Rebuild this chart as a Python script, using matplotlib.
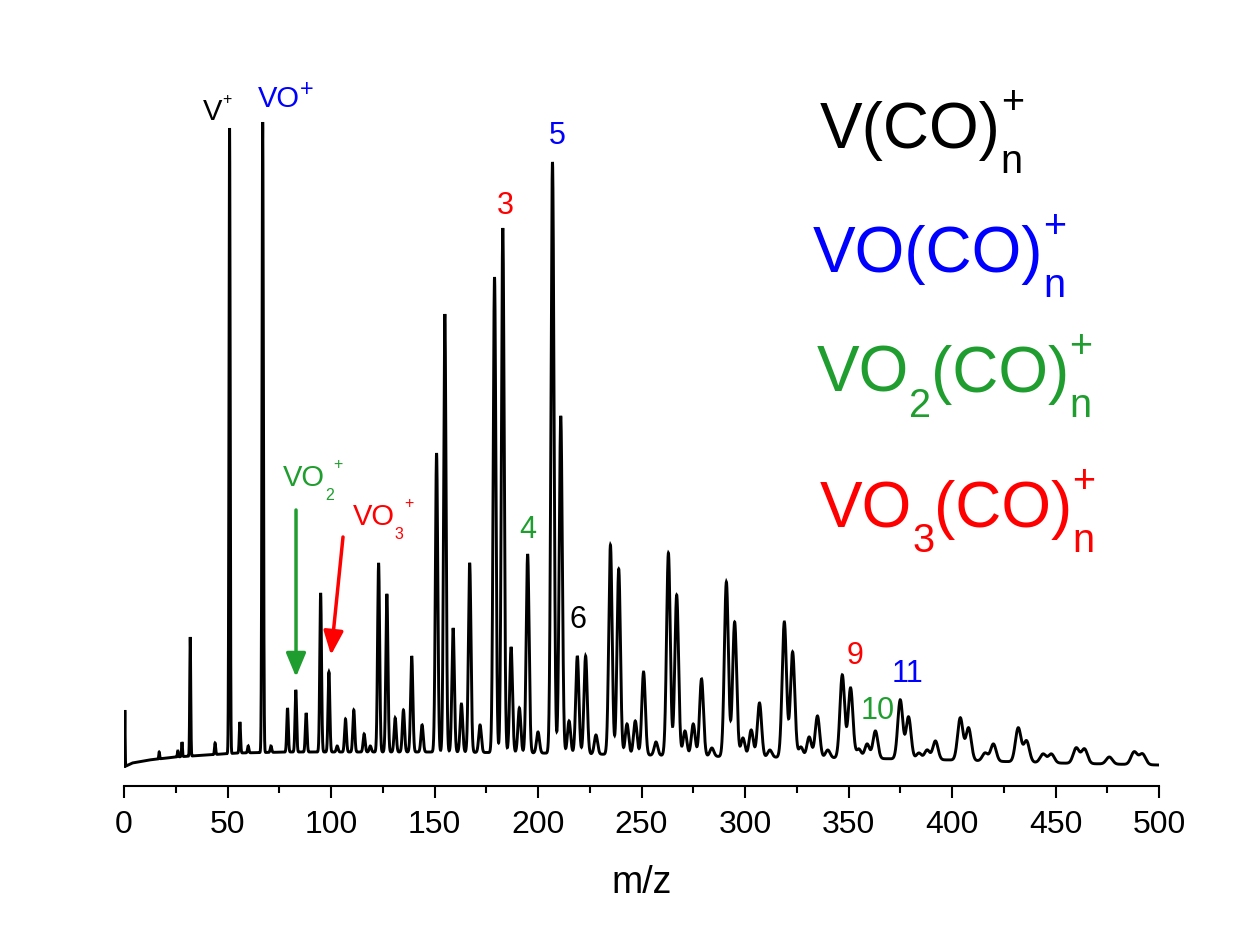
import numpy as np
import matplotlib
matplotlib.use("Agg")
import matplotlib.pyplot as plt
from matplotlib.ticker import MultipleLocator
from matplotlib.transforms import offset_copy

plt.rcParams["font.family"] = ["Liberation Sans", "DejaVu Sans"]

GREEN = "#1f9e2f"
RED = "#ff0000"
BLUE = "#0000ff"

# ─── DATA ──────────────────────────────────────────────────────────────────────
# baseline of the spectrum (arb. units)
base_mz = [0, 1, 4, 12, 25, 40, 55, 80, 150, 200, 250, 300, 350, 400, 450, 500]
base_int = [18, 20, 23, 26, 29, 31, 33, 34, 34, 33, 31, 29, 28, 26, 23, 21]

# peak positions (m/z) and apex intensities (arb. units)
peak_mz = [0.4, 17, 26, 28, 32, 44, 51, 56, 60, 67, 71, 79, 83, 88, 95, 99,
           103, 107, 111, 116, 119, 123, 127, 131, 135, 139, 144, 151, 155,
           159, 163, 167, 172, 179, 183, 187, 191, 195, 200, 207, 211, 215,
           219, 223, 228, 235, 239, 243, 247, 251, 257, 263, 267, 271, 275,
           279, 284, 291, 295, 299, 303, 307, 312, 319, 323, 327, 331, 335,
           340, 347, 351, 355, 359, 363, 375, 379, 384, 388, 392, 404, 408,
           416, 420, 432, 436, 444, 448, 460, 464, 476, 488, 492]
peak_int = [76, 34, 35, 44, 149, 43, 658, 64, 40, 664, 40, 78, 96, 73, 193,
            114, 40, 67, 76, 52, 40, 223, 192, 68, 76, 130, 61, 333, 472,
            158, 82, 223, 61, 509, 558, 139, 78, 232, 54, 624, 370, 65,
            130, 130, 51, 241, 217, 62, 65, 114, 44, 233, 191, 55, 62,
            107, 38, 204, 164, 48, 56, 83, 36, 164, 134, 39, 49, 70,
            36, 111, 98, 37, 42, 55, 86, 69, 33, 36, 45, 68, 58,
            33, 42, 58, 45, 32, 32, 38, 37, 29, 34, 32]

# cluster-size labels: text, m/z, intensity, colour
n_text = ["3", "5", "4", "6", "9", "10", "11"]
n_mz = [184.1, 209.2, 195.2, 219.3, 353.1, 364.3, 378.7]
n_int = [572, 642, 248, 158, 122, 67, 104]
n_color = [RED, BLUE, GREEN, "black", RED, GREEN, BLUE]
# ───────────────────────────────────────────────────────────────────────────────

mz = np.linspace(0, 500, 20001)
signal = np.interp(mz, base_mz, base_int)
for m, top in zip(peak_mz, peak_int):
    amp = top - np.interp(m, base_mz, base_int)
    sigma = 0.15 + 0.0028 * m
    signal += amp * np.exp(-0.5 * ((mz - m) / sigma) ** 2)

fig = plt.figure(figsize=(12.43, 9.34), dpi=100)
ax = fig.add_axes([124 / 1243, 148 / 934, 1035 / 1243, 726 / 934])
ax.plot(mz, signal, color="black", lw=2.1, solid_joinstyle="miter")

ax.set_xlim(0, 500)
ax.set_ylim(0, 726)
for side in ("left", "top", "right"):
    ax.spines[side].set_visible(False)
ax.spines["bottom"].set_linewidth(1.5)
ax.set_yticks([])
ax.xaxis.set_major_locator(MultipleLocator(50))
ax.xaxis.set_minor_locator(MultipleLocator(25))
ax.tick_params(axis="x", which="major", direction="out", length=8.6, width=1.5,
               labelsize=23, pad=9)
ax.tick_params(axis="x", which="minor", direction="out", length=5, width=1.5)
ax.set_xlabel("m/z", fontsize=27, labelpad=18)

renderer = fig.canvas.get_renderer()


def formula(x, y, pieces, size, color, scale=0.6, drop=0.0, rise=0.0,
            stacked=True):
    """Write a chemical formula piece by piece; offsets are in pixels.

    pieces: list of (text, subscript, superscript)."""
    dx = 0.0
    small = size * scale
    for text, sub, sup in pieces:
        tr = offset_copy(ax.transData, fig=fig, x=dx, y=0, units="dots")
        t = ax.text(x, y, text, fontsize=size, color=color, va="baseline",
                    transform=tr)
        dx += t.get_window_extent(renderer).width
        w_sub = 0.0
        if sub:
            tr = offset_copy(ax.transData, fig=fig, x=dx, y=-drop, units="dots")
            s = ax.text(x, y, sub, fontsize=small, color=color,
                        va="baseline", transform=tr)
            w_sub = s.get_window_extent(renderer).width
        if sup:
            sx = dx if stacked else dx + w_sub
            tr = offset_copy(ax.transData, fig=fig, x=sx, y=rise, units="dots")
            p = ax.text(x, y, sup, fontsize=small, color=color,
                        va="baseline", transform=tr)
            w_sup = p.get_window_extent(renderer).width
            dx = max(dx + w_sub, sx + w_sup)
        else:
            dx += w_sub


# ion labels
formula(38.2, 666, [("V", "", "+")], 21, "black", scale=0.55, rise=16)
formula(64.7, 679, [("VO", "", "+")], 21, BLUE, scale=0.8, rise=11)
formula(76.8, 300, [("VO", "2", "+")], 21, GREEN, scale=0.55, drop=14,
        rise=17, stacked=False)
formula(110.6, 261, [("VO", "3", "+")], 21, RED, scale=0.55, drop=14,
        rise=17, stacked=False)

for t, m, y, c in zip(n_text, n_mz, n_int, n_color):
    ax.text(m, y, t, fontsize=22, color=c, ha="center", va="baseline")

# arrows pointing to VO2+ and VO3+
arrow = "-|>,head_length=0.72,head_width=0.3"
ax.annotate("", xy=(83.1, 109), xytext=(83.1, 276),
            arrowprops=dict(arrowstyle=arrow, color=GREEN, lw=2.5,
                            mutation_scale=20, shrinkA=0, shrinkB=0))
ax.annotate("", xy=(100.0, 131), xytext=(105.8, 249),
            arrowprops=dict(arrowstyle=arrow, color=RED, lw=2.5,
                            mutation_scale=20, shrinkA=0, shrinkB=0))

# series legend
big = dict(size=46, scale=0.62, drop=25, rise=34)
formula(336.2, 638, [("V(CO)", "n", "+")], color="black", **big)
formula(332.9, 514, [("VO(CO)", "n", "+")], color=BLUE, **big)
formula(334.8, 394, [("VO", "2", ""), ("(CO)", "n", "+")], color=GREEN, **big)
formula(336.2, 259, [("VO", "3", ""), ("(CO)", "n", "+")], color=RED, **big)

fig.savefig("out.png", dpi=100, facecolor="white")
